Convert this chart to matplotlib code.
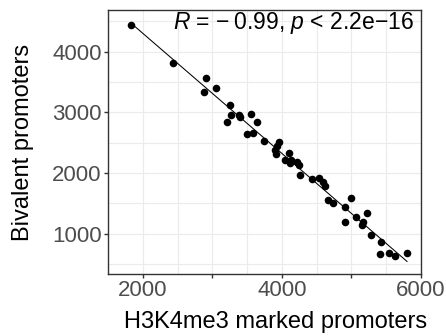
import numpy as np
import matplotlib
matplotlib.use("Agg")
import matplotlib.pyplot as plt

plt.rcParams['font.family'] = ['Liberation Sans', 'DejaVu Sans']
plt.rcParams['mathtext.fontset'] = 'custom'
plt.rcParams['mathtext.rm'] = 'Liberation Sans'
plt.rcParams['mathtext.it'] = 'Liberation Sans:italic'

# values
h3k4me3 = [1827, 2437, 2912, 3056, 2874, 3251, 3275, 3205, 3377, 3401,
           3555, 3642, 3578, 3499, 3736, 3964, 3932, 3904, 3913, 4099,
           4043, 4131, 4215, 4113, 4253, 4267, 4439, 4532, 4588, 4626,
           4662, 4728, 4905, 4989, 4913, 5059, 5230, 5170, 5156, 5277,
           5426, 5416, 5547, 5622, 5799]
bivalent = [4431, 3816, 3569, 3405, 3334, 3120, 2956, 2845, 2956, 2928,
            2967, 2840, 2664, 2638, 2528, 2516, 2442, 2380, 2309, 2326,
            2216, 2216, 2188, 2161, 2133, 1964, 1898, 1914, 1859, 1788,
            1558, 1503, 1447, 1586, 1201, 1283, 1349, 1201, 1146, 987,
            872, 669, 691, 641, 691]
label = '$R$ = \u2212\u20090.99, $p$ < 2.2e\u221216'

x = np.array(h3k4me3)
y = np.array(bivalent)

fig = plt.figure(figsize=(4.46, 3.36), dpi=100)
ax = fig.add_axes([108/446, 1-274/336, 313/446, 264/336])

# regression line
k, b = np.polyfit(x, y, 1)
xs = np.array([x.min(), x.max()])
ax.plot(xs, k*xs + b, color='black', lw=0.75, zorder=2)
ax.scatter(x, y, s=30, color='black', linewidths=0, zorder=3)

ax.set_xlim(1627, 6000)
ax.set_ylim(340, 4683)

ax.set_xticks([2000, 3000, 4000, 5000, 6000])
ax.set_xticklabels(['2000', '', '4000', '', '6000'])
ax.set_xticks(np.arange(1500, 6001, 500), minor=True)
ax.set_yticks([1000, 2000, 3000, 4000])
ax.set_yticks(np.arange(500, 4501, 500), minor=True)

ax.grid(which='both', color='#ebebeb', lw=0.8)
ax.set_axisbelow(True)
ax.tick_params(which='major', length=3, width=1, color='#333333',
               labelsize=16, labelcolor='#4d4d4d', pad=1.5)
ax.tick_params(which='minor', length=0)
for s in ax.spines.values():
    s.set_color('#333333')
    s.set_linewidth(1)

ax.set_xlabel('H3K4me3 marked promoters', fontsize=17)
ax.set_ylabel('Bivalent promoters', fontsize=17)
ax.xaxis.set_label_coords((276-108)/313, -(311-274)/264)
ax.yaxis.set_label_coords(-(108-34)/313, 0.5)

ax.text((173-108)/313, (274-23)/264, label, transform=ax.transAxes,
        fontsize=16.5, ha='left', va='center')

fig.savefig('out.png', dpi=100)
